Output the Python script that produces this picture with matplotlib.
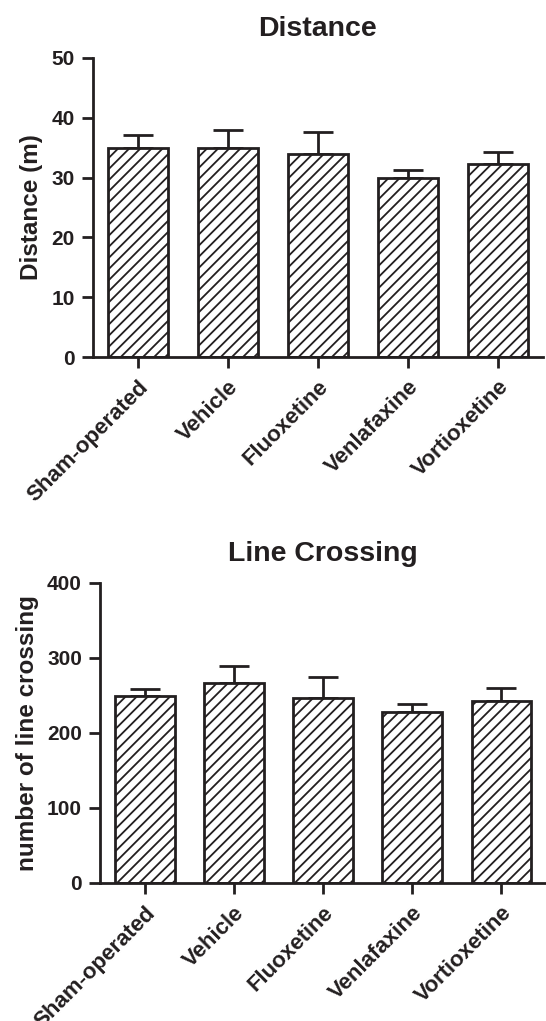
import matplotlib
matplotlib.use("Agg")
import matplotlib.pyplot as plt
import numpy as np

groups = ["Sham-operated", "Vehicle", "Fluoxetine", "Venlafaxine", "Vortioxetine"]

# Distance (m): mean and top of error bar
dist_mean = [35.0, 35.0, 34.0, 30.0, 32.2]
dist_top = [37.2, 38.0, 37.7, 31.2, 34.2]

# number of line crossing: mean and top of error bar
cross_mean = [249, 266, 246, 228, 243]
cross_top = [259, 289, 274, 239, 260]

ink = "#231f20"
plt.rcParams["font.family"] = ["Liberation Sans", "DejaVu Sans"]
plt.rcParams["font.weight"] = "bold"
plt.rcParams["hatch.linewidth"] = 1.3
plt.rcParams["hatch.color"] = ink


def panel(ax, mean, top, ylim, yticks, ylabel, title):
    x = np.arange(len(groups))
    err = np.array(top) - np.array(mean)
    ax.errorbar(x, mean, yerr=[np.zeros(len(x)), err], fmt="none",
                ecolor=ink, elinewidth=2, capsize=10.5, capthick=2, zorder=1)
    ax.bar(x, mean, width=0.67, color="white", edgecolor=ink,
           linewidth=2, hatch="///", zorder=2)
    ax.set_xlim(-0.5, 4.5)
    ax.set_ylim(*ylim)
    ax.set_yticks(yticks)
    ax.set_xticks(x)
    ax.set_xticklabels(groups, rotation=45, ha="right", rotation_mode="anchor",
                       fontsize=16, fontweight="bold")
    ax.tick_params(axis="y", labelsize=15, width=2, length=8, color=ink,
                   labelcolor=ink, pad=5)
    ax.tick_params(axis="x", width=2, length=8, color=ink, labelcolor=ink, pad=6)
    for s in ["top", "right"]:
        ax.spines[s].set_visible(False)
    for s in ["left", "bottom"]:
        ax.spines[s].set_linewidth(2)
        ax.spines[s].set_color(ink)
    ax.set_ylabel(ylabel, fontsize=17.5, fontweight="bold", color=ink, labelpad=6)
    ax.set_title(title, fontsize=20.5, fontweight="bold", color=ink, pad=16)


fig = plt.figure(figsize=(5.46, 10.21), dpi=100)
ax1 = fig.add_axes([0.170, 0.6503, 0.8242, 0.2929])
ax2 = fig.add_axes([0.1832, 0.1352, 0.8168, 0.2938])

panel(ax1, dist_mean, dist_top, (0, 50), [0, 10, 20, 30, 40, 50],
      "Distance (m)", "Distance")
panel(ax2, cross_mean, cross_top, (0, 400), [0, 100, 200, 300, 400],
      "number of line crossing", "Line Crossing")

fig.savefig("out.png", dpi=100)
